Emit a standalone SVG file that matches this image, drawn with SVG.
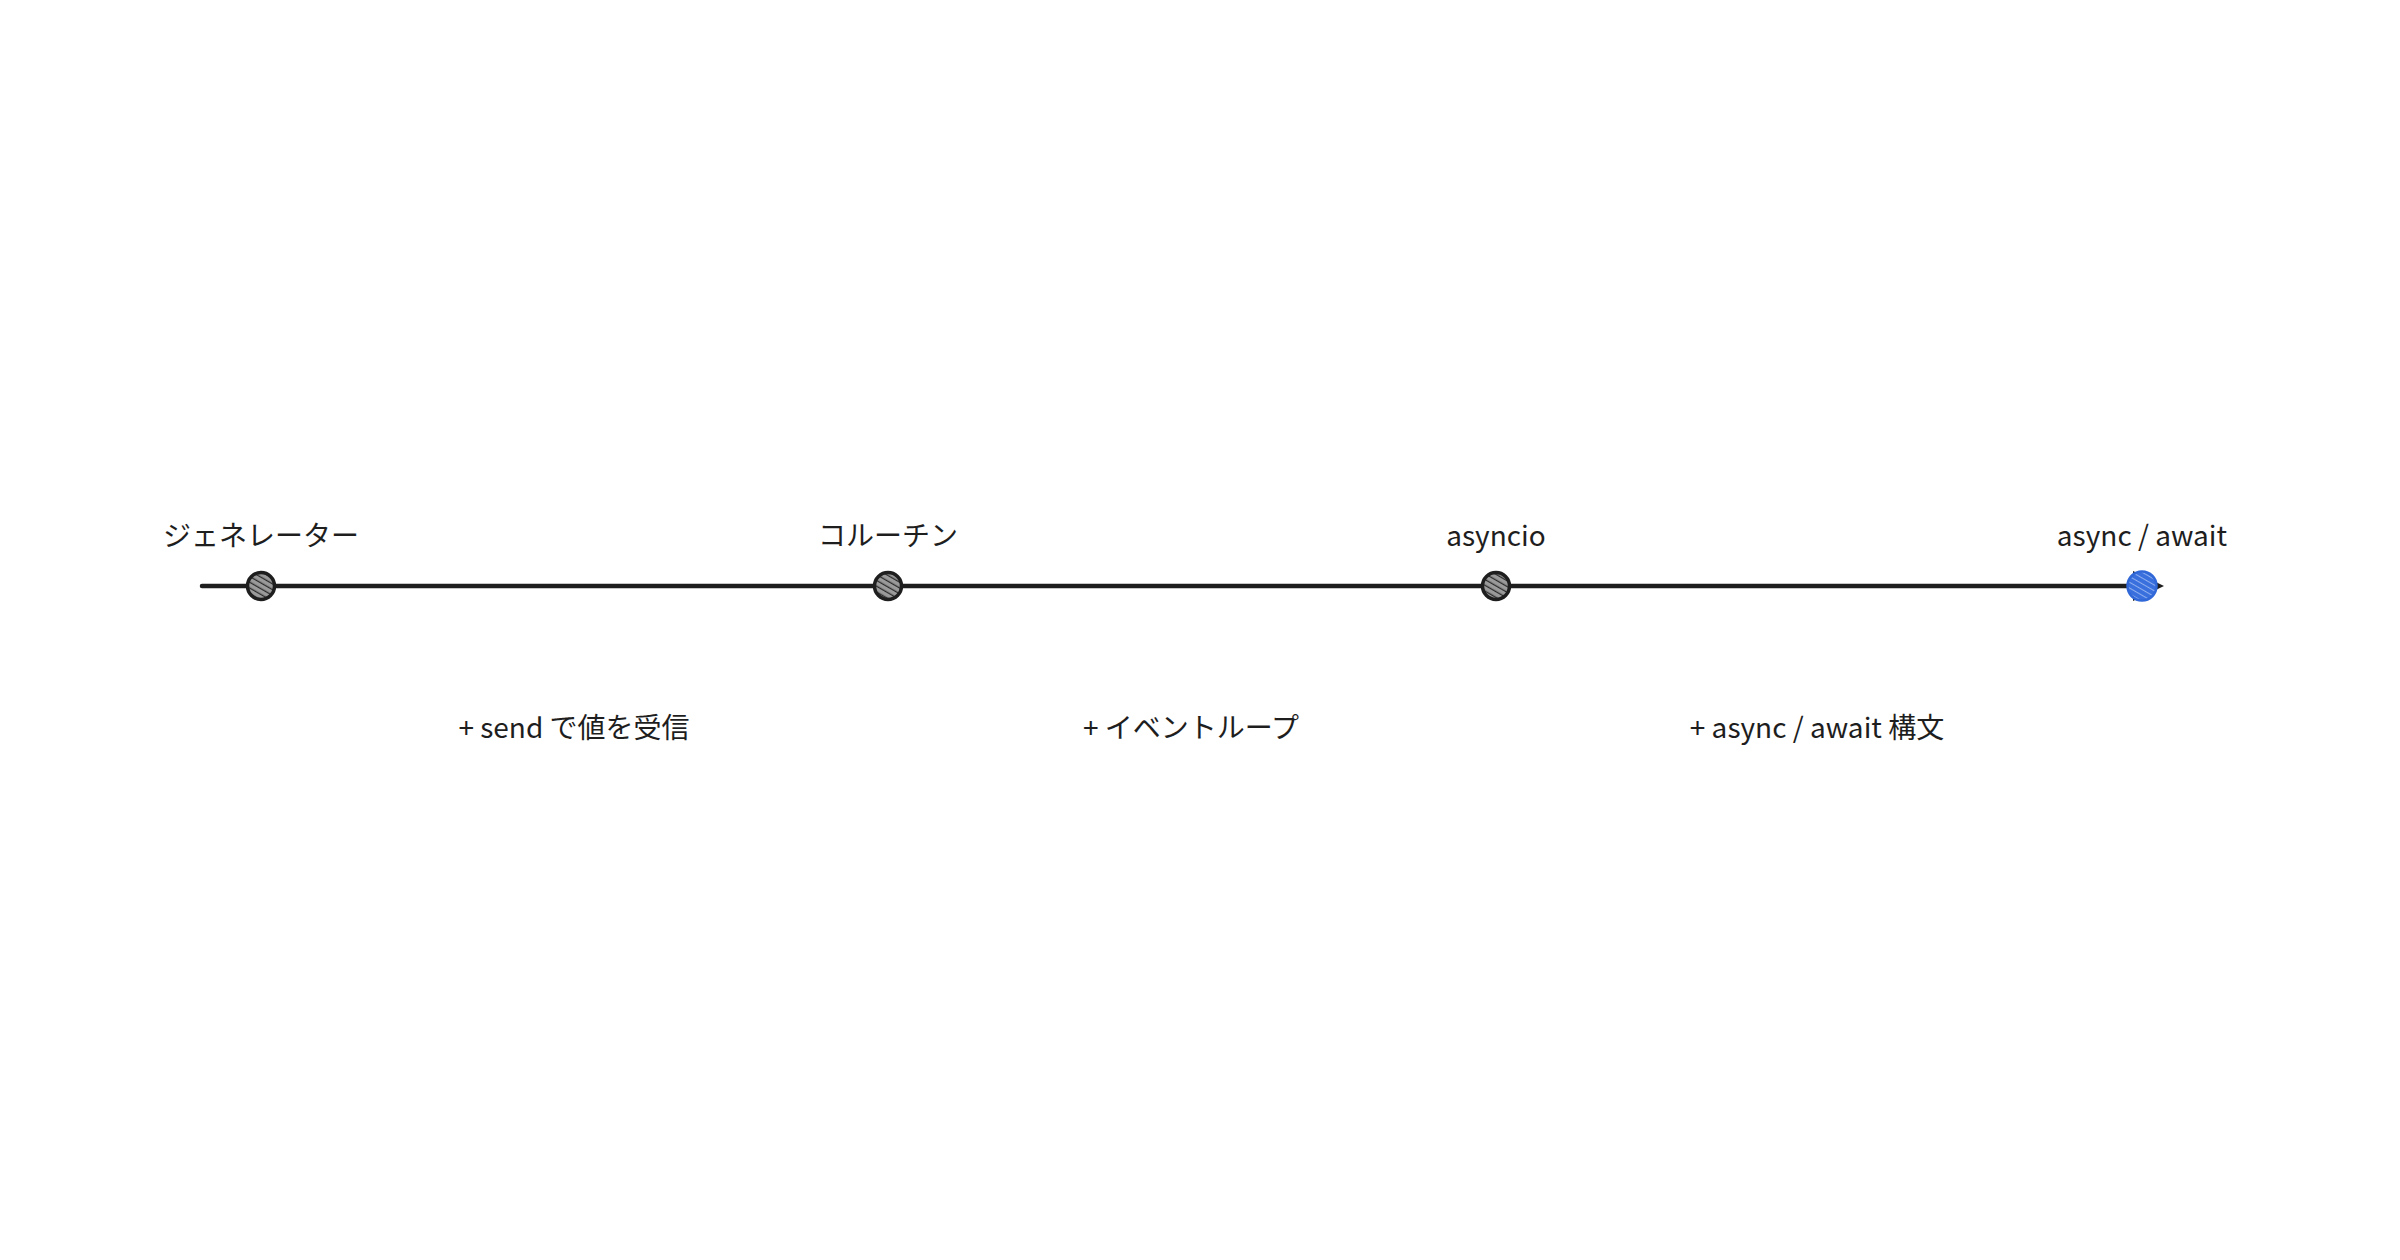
<svg xmlns="http://www.w3.org/2000/svg" width="2400" height="1260" viewBox="0 0 2400 1260">
<defs>
<pattern id="hatch" patternUnits="userSpaceOnUse" width="5" height="5" patternTransform="rotate(-60)">
<rect width="5" height="5" fill="#9a9a9a"/>
<line x1="0" y1="0" x2="0" y2="5" stroke="#2a2a2a" stroke-width="2.5"/>
</pattern>
<pattern id="hatchBlue" patternUnits="userSpaceOnUse" width="5" height="5" patternTransform="rotate(-60)">
<rect width="5" height="5" fill="#3a70de"/>
<line x1="0" y1="0" x2="0" y2="5" stroke="#c9dafa" stroke-width="1.2"/>
</pattern>
</defs>
<style>
.lbl{font-family:"Noto Sans CJK JP","Noto Sans",sans-serif;font-size:28px;fill:#1e1e1e;text-anchor:middle}
.node{stroke:#1e1e1e;stroke-width:3.5}
</style>
<rect width="2400" height="1260" fill="#ffffff"/>
<g id="connectors">
<line x1="202" y1="586" x2="2140" y2="586" stroke="#1e1e1e" stroke-width="4.5" stroke-linecap="round"/>
<line x1="210" y1="585" x2="2150" y2="585.5" stroke="#1e1e1e" stroke-width="2" stroke-linecap="round" opacity="0.7"/>
<path d="M2133,571 L2164,586 L2133,601 Z" fill="#1e1e1e"/>
</g>
<g id="node-generator">
<circle class="node" cx="261" cy="586" r="13.5" fill="url(#hatch)"/>
<text class="lbl" x="261" y="546">ジェネレーター</text>
</g>
<g id="node-coroutine">
<circle class="node" cx="888" cy="586" r="13.5" fill="url(#hatch)"/>
<text class="lbl" x="888" y="546">コルーチン</text>
</g>
<g id="node-asyncio">
<circle class="node" cx="1496" cy="586" r="13.5" fill="url(#hatch)"/>
<text class="lbl" x="1496" y="546">asyncio</text>
</g>
<g id="node-asyncawait">
<circle cx="2142" cy="586" r="14.5" fill="url(#hatchBlue)" stroke="#3168d8" stroke-width="2.5"/>
<text class="lbl" x="2142" y="546">async / await</text>
</g>
<g id="labels">
<text class="lbl" x="574" y="738">+ send で値を受信</text>
<text class="lbl" x="1191" y="738">+ イベントループ</text>
<text class="lbl" x="1817" y="738">+ async / await 構文</text>
</g>
</svg>
